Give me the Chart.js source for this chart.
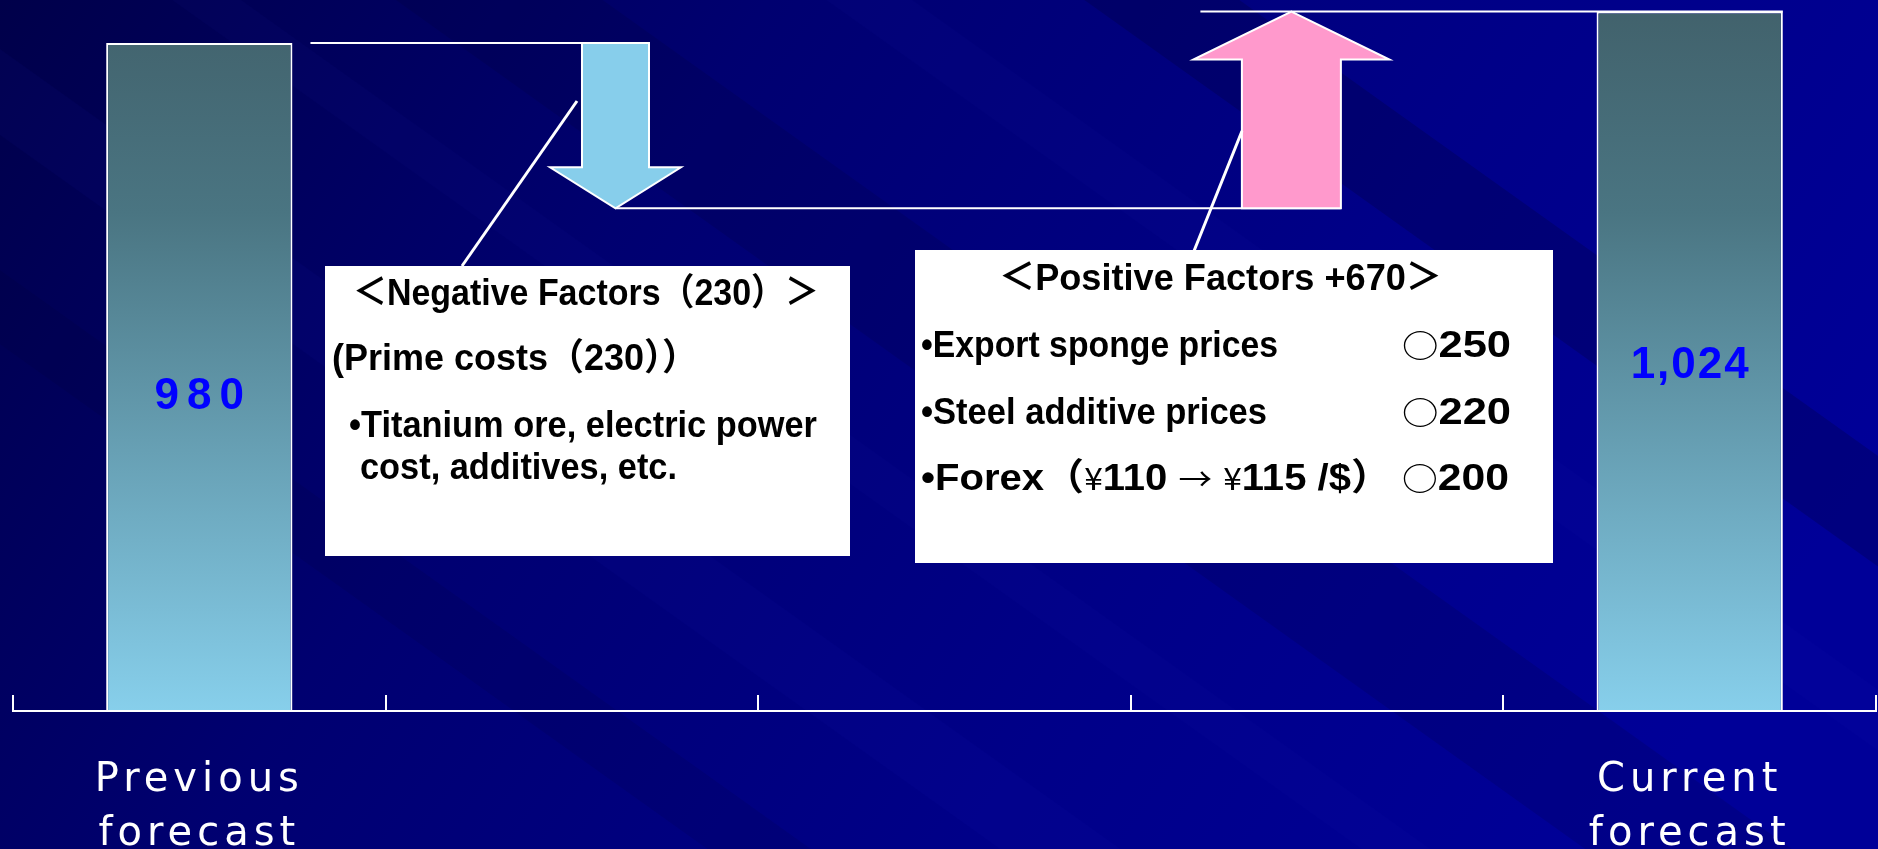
<!DOCTYPE html>
<html>
<head>
<meta charset="utf-8">
<script src="https://cdn.jsdelivr.net/npm/chart.js@4.4.1/dist/chart.umd.min.js"></script>
<style>
  html, body { margin: 0; padding: 0; background: #000080; }
  canvas { display: block; }
</style>
</head>
<body>
<canvas id="chart" width="1878" height="849"></canvas>
<script>
/* Data */
const categories = [["Previous", "forecast"], "", "", "", ["Current", "forecast"]];
const forecastValues = [980, null, null, null, 1024];
const forecastLabels = ["980", "", "", "", "1,024"];
const arrowCategories = [1, 3];
const arrowFrom = [980, 750];
const arrowTo = [750, 1024];

const negativeLines = ["＜Negative Factors（230）＞", "(Prime costs（230））", "•Titanium ore, electric power", "cost, additives, etc."];
const positiveLines = ["＜Positive Factors +670＞", "•Export sponge prices", "•Steel additive prices", "•Forex（¥110 → ¥115 /$）"];
const positiveAmounts = ["", "○250", "○220", "○200"];

/* Styles / layout */
const labelSpacing = [8, 0, 0, 0, 2];
const arrowStyle = [
  { fill: "#87ceeb", shift: 0.117, shaft: 67, head: 131, headLen: 41 },
  { fill: "#ff99cc", shift: -0.069, shaft: 99, head: 196, headLen: 48 }
];
const boxes = [
  {
    x: 325, y: 266, w: 525, h: 290, pointer: [577, 101, 462, 266],
    lines: negativeLines,
    rows: [[28, 39, 466], [7, 104, 366], [24, 171, 468], [35, 213, 317]],
    amounts: [], amountRows: []
  },
  {
    x: 915, y: 250, w: 638, h: 313, pointer: [1242, 131, 1194, 251],
    lines: positiveLines,
    rows: [[84, 40, 443], [6, 107, 357], [6, 174, 346], [6, 240, 470]],
    amounts: positiveAmounts,
    amountRows: [null, [487, 107, 109], [487, 174, 109], [487, 240, 107]]
  }
];
const latinFont = "bold 37px 'Liberation Sans', 'Noto Sans CJK JP', sans-serif";
const cjkFont = "31px 'Noto Sans CJK JP', sans-serif";
const cjkChars = "○→¥";


/* Helpers */
function line(ctx, x1, y1, x2, y2) {
  ctx.beginPath();
  ctx.moveTo(x1, y1);
  ctx.lineTo(x2, y2);
  ctx.stroke();
}

function splitRuns(text) {
  const runs = [];
  for (const ch of text) {
    const cjk = cjkChars.includes(ch);
    const last = runs[runs.length - 1];
    if (last && last.cjk === cjk) last.t += ch;
    else runs.push({ t: ch, cjk });
  }
  return runs;
}

// draw text squeezed/stretched to a given width (mimics the narrow gothic face)
function fitText(ctx, text, x, y, width) {
  const runs = splitRuns(text);
  let total = 0;
  runs.forEach(r => {
    ctx.font = r.cjk ? cjkFont : latinFont;
    r.w = ctx.measureText(r.t).width;
    total += r.w;
  });
  ctx.save();
  ctx.translate(x, y);
  ctx.scale(width / total, 1);
  let cx = 0;
  runs.forEach(r => {
    ctx.font = r.cjk ? cjkFont : latinFont;
    ctx.fillText(r.t, cx, 0);
    cx += r.w;
  });
  ctx.restore();
}

function drawArrow(ctx, g) {
  const dir = Math.sign(g.y1 - g.y0);
  const yh = g.y1 - dir * g.headLen;
  const s = g.shaft / 2, h = g.head / 2;
  ctx.beginPath();
  ctx.moveTo(g.cx - s, g.y0);
  ctx.lineTo(g.cx + s, g.y0);
  ctx.lineTo(g.cx + s, yh);
  ctx.lineTo(g.cx + h, yh);
  ctx.lineTo(g.cx, g.y1);
  ctx.lineTo(g.cx - h, yh);
  ctx.lineTo(g.cx - s, yh);
  ctx.closePath();
  ctx.fillStyle = g.fill;
  ctx.fill();
  ctx.strokeStyle = "#ffffff";
  ctx.lineWidth = 2;
  ctx.stroke();
}

function drawBox(ctx, box) {
  ctx.strokeStyle = "#ffffff";
  ctx.lineWidth = 3;
  line(ctx, ...box.pointer);
  ctx.fillStyle = "#ffffff";
  ctx.fillRect(box.x, box.y, box.w, box.h);
  ctx.fillStyle = "#000000";
  ctx.textAlign = "left";
  ctx.textBaseline = "alphabetic";
  box.rows.forEach((r, i) => fitText(ctx, box.lines[i], box.x + r[0], box.y + r[1], r[2]));
  box.amountRows.forEach((r, i) => {
    if (r) fitText(ctx, box.amounts[i], box.x + r[0], box.y + r[1], r[2]);
  });
}

function paintBackground(ctx, w, h) {
  const g = ctx.createLinearGradient(0, 0, w * 0.8, h * 1.2);
  g.addColorStop(0, "#00004a");
  g.addColorStop(0.35, "#000070");
  g.addColorStop(0.7, "#000088");
  g.addColorStop(1, "#000098");
  ctx.fillStyle = g;
  ctx.fillRect(0, 0, w, h);

  ctx.translate(w / 2, h / 2);
  ctx.rotate(0.62);
  const streaks = [
    [-520, 90, "rgba(0,0,40,0.22)"],
    [-330, 50, "rgba(30,30,190,0.06)"],
    [-150, 120, "rgba(0,0,40,0.14)"],
    [60, 40, "rgba(30,30,200,0.05)"],
    [240, 70, "rgba(40,40,210,0.06)"],
    [420, 60, "rgba(0,0,40,0.1)"]
  ];
  streaks.forEach(([off, t, color]) => {
    ctx.fillStyle = color;
    ctx.fillRect(-2200, off, 4400, t);
  });
}

function barGradient(c) {
  const { ctx, chartArea } = c.chart;
  if (!chartArea) return "#87ceeb";
  const g = ctx.createLinearGradient(0, chartArea.top, 0, chartArea.bottom);
  g.addColorStop(0, "#41616b");
  g.addColorStop(0.3, "#4a7582");
  g.addColorStop(1, "#87cfeb");
  return g;
}


/* Plugin: background, arrows, boxes, value labels */
const decor = {
  id: "decor",
  beforeDraw(chart) {
    const { ctx, width, height } = chart;
    ctx.save();
    paintBackground(ctx, width, height);
    ctx.restore();
    ctx.letterSpacing = "5px";
  },
  beforeDatasetsDraw(chart) {
    chart.ctx.letterSpacing = "0px";
  },
  afterDatasetsDraw(chart) {
    const { ctx } = chart;
    const { x, y } = chart.scales;
    const bars = chart.getDatasetMeta(0).data;
    const step = x.getPixelForValue(1) - x.getPixelForValue(0);

    const geo = arrowCategories.map((cat, i) => ({
      ...arrowStyle[i],
      cx: x.getPixelForValue(cat) + arrowStyle[i].shift * step,
      y0: y.getPixelForValue(arrowFrom[i]),
      y1: y.getPixelForValue(arrowTo[i])
    }));
    const a = geo[0], b = geo[1];

    ctx.save();
    ctx.strokeStyle = "#ffffff";
    ctx.lineWidth = 2;
    line(ctx, bars[0].x + bars[0].width / 2 + 18, a.y0, a.cx - a.shaft / 2, a.y0);
    line(ctx, a.cx, a.y1, b.cx + b.shaft / 2, b.y0);
    line(ctx, b.cx - b.head / 2 + 7, b.y1, bars[4].x + bars[4].width / 2, b.y1);
    geo.forEach(g => drawArrow(ctx, g));

    boxes.forEach(box => drawBox(ctx, box));

    ctx.fillStyle = "#0000ff";
    ctx.font = "bold 44px 'Liberation Sans', sans-serif";
    ctx.textAlign = "center";
    ctx.textBaseline = "middle";
    bars.forEach((bar, i) => {
      if (!forecastLabels[i]) return;
      const ls = labelSpacing[i];
      ctx.letterSpacing = ls + "px";
      ctx.fillText(forecastLabels[i], bar.x + ls / 2, bar.y + 354);
    });
    ctx.letterSpacing = "0px";
    ctx.restore();
  }
};


/* Chart */
new Chart(document.getElementById("chart"), {
  type: "bar",
  data: {
    labels: categories,
    datasets: [{
      data: forecastValues,
      backgroundColor: barGradient,
      borderColor: "#ffffff",
      borderWidth: 2,
      barPercentage: 0.5,
      categoryPercentage: 1
    }]
  },
  options: {
    responsive: false,
    animation: false,
    devicePixelRatio: 1,
    layout: { padding: { left: 13, right: 2, top: 0, bottom: 0 } },
    plugins: {
      legend: { display: false },
      tooltip: { enabled: false }
    },
    scales: {
      x: {
        grid: { drawOnChartArea: false, color: "#ffffff", lineWidth: 2, tickLength: -16 },
        border: { color: "#ffffff", width: 2, z: 1 },
        ticks: {
          color: "#ffffff",
          font: { family: "DejaVu Sans", size: 40, lineHeight: 1.35 },
          padding: 59,
          autoSkip: false,
          maxRotation: 0
        },
        afterFit(scale) { scale.height = 138; }
      },
      y: { display: false, min: 50, max: 1040 }
    }
  },
  plugins: [decor]
});
</script>
</body>
</html>
